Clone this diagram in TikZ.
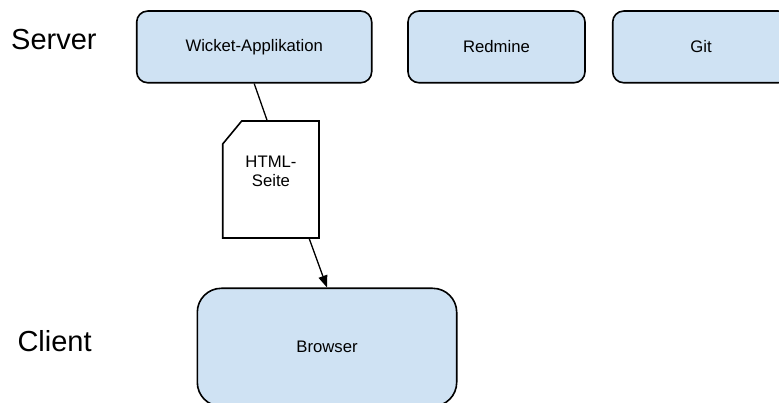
\documentclass[tikz,border=0pt]{standalone}
\usepackage{fontspec}
\setmainfont{Liberation Sans}
\usetikzlibrary{arrows.meta}
\definecolor{boxblue}{HTML}{CFE2F3}
\tikzset{
  sbox/.style={draw=black, line width=1.6pt, fill=boxblue, rounded corners=11pt,
    font=\fontsize{16.7}{19}\selectfont, inner sep=0pt},
  bigbox/.style={sbox, rounded corners=24pt},
  tier/.style={font=\fontsize{29}{33}\selectfont, anchor=base west, inner sep=0pt},
  doclabel/.style={font=\fontsize{16.7}{19}\selectfont, align=center, inner sep=0pt},
  docline/.style={draw=black, line width=1.6pt, fill=white},
  conn/.style={draw=black, line width=1.3pt},
  arr/.style={conn, -{Triangle[length=12pt,width=9pt]}}
}
\begin{document}
\begin{tikzpicture}[x=1pt,y=-1pt]
\useasboundingbox (0,0) rectangle (779,403);
\clip (0,0) rectangle (779,403);
\fill[white] (0,0) rectangle (779,403);

% tier labels
\node[tier] (server) at (11,49.3) {Server};
\node[tier] (client) at (17.3,351.7) {Client};

% server boxes
\node[sbox, minimum width=235pt, minimum height=71.7pt] (wicket) at (254.2,46.9) {Wicket-Applikation};
\node[sbox, minimum width=177pt, minimum height=71.7pt] (redmine) at (496.5,46.9) {Redmine};
\node[sbox, minimum width=176.6pt, minimum height=71.7pt] (git) at (701,46.9) {Git};

% client box
\node[bigbox, minimum width=259.4pt, minimum height=118pt] (browser) at (327,347.3) {Browser};

% HTML page (document with cut corner)
\draw[docline] (241.7,121) -- (319,121) -- (319,238) -- (222.7,238) -- (222.7,144) -- cycle;
\node[doclabel] (doc) at (271,171.4) {HTML-\\Seite};
\coordinate (doctop) at (267.3,121);
\coordinate (docbottom) at (309,238);

% connectors
\draw[conn] (wicket.south) -- (doctop);
\draw[arr] (docbottom) -- (browser.north);
\end{tikzpicture}
\end{document}
